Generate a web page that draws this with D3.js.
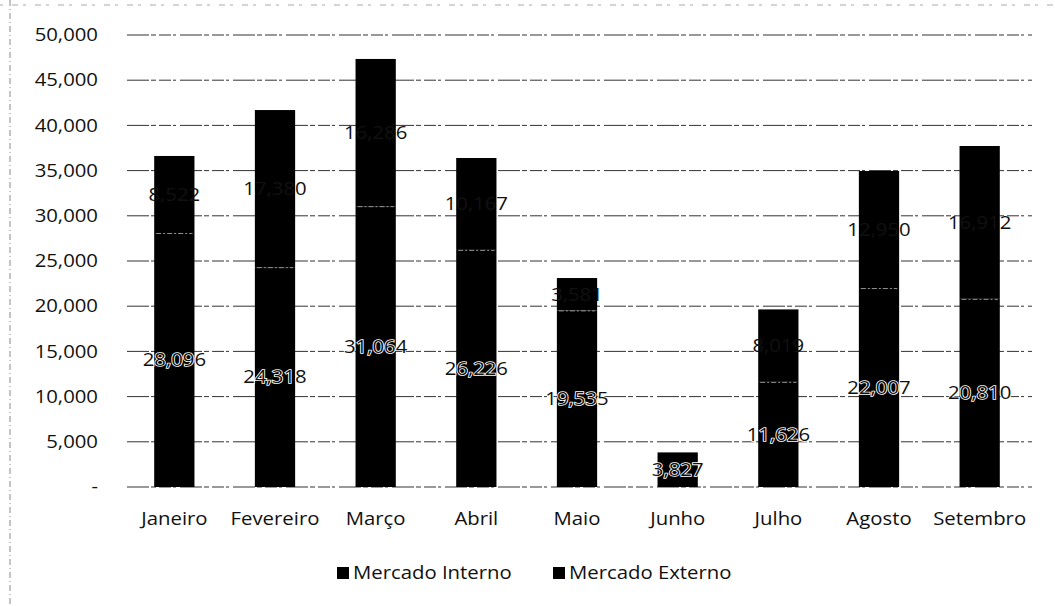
<!DOCTYPE html>
<html><head><meta charset="utf-8">
<script src="https://cdn.jsdelivr.net/npm/d3@7"></script>
<style>
html,body{margin:0;padding:0;background:#fff;}
svg text{font-family:"Open Sans",sans-serif;font-size:18px;fill:#111;}
.sx{transform-box:fill-box;transform:scaleX(1.13);}
.sxe{transform-origin:right center;}
.sxm{transform-origin:center center;}
.sxs{transform-origin:left center;}
.out{paint-order:stroke;stroke:#fff;stroke-width:1.6px;}
</style></head>
<body>
<svg id="c" width="1055" height="606"></svg>
<script>
const categories = ["Janeiro","Fevereiro","Março","Abril","Maio","Junho","Julho","Agosto","Setembro"];
const seriesNames = ["Mercado Interno","Mercado Externo"];
const mercadoInterno = [28096,24318,31064,26226,19535,3827,11626,22007,20810];
const mercadoExterno = [8522,17380,16286,10167,3581,0,8019,12950,16912];
const yTicks = [0,5000,10000,15000,20000,25000,30000,35000,40000,45000,50000];

const svg = d3.select("#c");
const x = d3.scaleBand().domain(categories).range([124,1030]).paddingInner(0.6).paddingOuter(0.3);
const y = d3.scaleLinear().domain([0,50000]).range([487,35]);

// frame
svg.append("line").attr("x1",10).attr("x2",10).attr("y1",0).attr("y2",606)
  .attr("stroke","#888").attr("stroke-width",1).attr("stroke-dasharray","6,3,1,3");
svg.append("line").attr("x1",0).attr("x2",1055).attr("y1",5).attr("y2",5)
  .attr("stroke","#aaa").attr("stroke-width",1).attr("stroke-dasharray","3,9,6,5");

// gridlines
svg.append("g").selectAll("line").data(yTicks).join("line")
  .attr("x1",127).attr("x2",1032)
  .attr("y1",d=>y(d)).attr("y2",d=>y(d))
  .attr("stroke","#333").attr("stroke-width",1)
  .attr("stroke-dasharray","22,2,5,3,12,2,3,4");

// y axis labels
const fmt = d3.format(",");
svg.append("g").selectAll("text").data(yTicks).join("text")
  .attr("class","sx sxe")
  .attr("x",98).attr("y",d=>y(d)).attr("dy","0.35em").attr("text-anchor","end")
  .text(d=>d===0?"-":fmt(d));

const stack = d3.stack().keys([0,1]).value((d,k)=>d[k]);
const rows = categories.map((c,i)=>[mercadoInterno[i],mercadoExterno[i]]);
const layers = stack(rows);

// bars
layers.forEach((layer,k)=>{
  svg.append("g").selectAll("rect").data(layer).join("rect")
    .attr("x",(d,i)=>x(categories[i]))
    .attr("width",x.bandwidth())
    .attr("y",d=>y(d[1]))
    .attr("height",d=>y(d[0])-y(d[1]))
    .attr("fill","#000");
});
// faint boundary line between segments
svg.append("g").selectAll("line").data(layers[0]).join("line")
  .attr("x1",(d,i)=>x(categories[i])+2).attr("x2",(d,i)=>x(categories[i])+x.bandwidth()-2)
  .attr("y1",d=>y(d[1])+0.5).attr("y2",d=>y(d[1])+0.5)
  .attr("stroke","#ccc").attr("stroke-width",1).attr("stroke-dasharray","5,2,2,2")
  .attr("opacity",(d,i)=>mercadoExterno[i]>0?0.7:0);

// labels: interno (black with white outline, visible inside the bar)
svg.append("g").selectAll("text").data(layers[0]).join("text")
  .attr("class","sx sxm out")
  .attr("x",(d,i)=>x(categories[i])+x.bandwidth()/2)
  .attr("y",d=>y((d[0]+d[1])/2)).attr("dy","0.35em").attr("text-anchor","middle")
  .text((d,i)=>fmt(mercadoInterno[i]));
// labels: externo (black, hidden on the bar)
svg.append("g").selectAll("text").data(layers[1].filter((d,i)=>mercadoExterno[i]>0)).join("text")
  .attr("class","sx sxm")
  .attr("x",d=>x(categories[layers[1].indexOf(d)])+x.bandwidth()/2)
  .attr("y",d=>y((d[0]+d[1])/2)).attr("dy","0.35em").attr("text-anchor","middle")
  .text(d=>fmt(mercadoExterno[layers[1].indexOf(d)]));

// x axis labels
svg.append("g").selectAll("text").data(categories).join("text")
  .attr("class","sx sxm")
  .attr("x",d=>x(d)+x.bandwidth()/2).attr("y",519).attr("dy","0.35em").attr("text-anchor","middle")
  .text(d=>d);

// legend
const legX = [337,553];
const lg = svg.append("g").selectAll("g").data(seriesNames).join("g")
  .attr("transform",(d,i)=>`translate(${legX[i]},573)`);
lg.append("rect").attr("x",0).attr("y",-6).attr("width",12).attr("height",12).attr("fill","#000");
lg.append("text").attr("class","sx sxs").attr("x",16).attr("y",0).attr("dy","0.35em").text(d=>d);
</script>
</body></html>
